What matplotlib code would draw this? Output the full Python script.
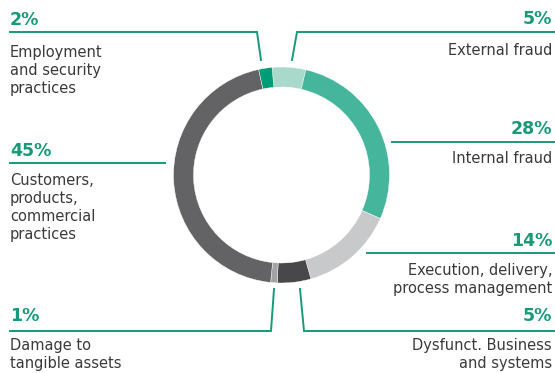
import matplotlib.pyplot as plt

# data, clockwise from the top of the ring
categories = ["External fraud", "Internal fraud", "Execution, delivery,\nprocess management",
              "Dysfunct. Business\nand systems", "Damage to\ntangible assets",
              "Customers,\nproducts,\ncommercial\npractices", "Employment\nand security\npractices"]
shares = [5, 28, 14, 5, 1, 45, 2]
colors = ["#a9d9cb", "#45b69c", "#c8c9cb", "#48484a", "#a3a3a5", "#636366", "#009b77"]

W, H = 555, 373
green = "#17997a"
txt = "#3a3a3a"

fig = plt.figure(figsize=(W / 100, H / 100), dpi=100)
ax = fig.add_axes([0, 0, 1, 1])

def fy(y):
    # pixel row from the top -> data y
    return H - y

ax.pie(shares, colors=colors, startangle=95, counterclock=False,
       radius=108, center=(281.5, fy(175)),
       wedgeprops=dict(width=20, edgecolor="white", linewidth=0.3))

# label layout: (side, pct baseline, first text baseline, leader line points)
layout = {
    "External fraud": ("r", 24, 55, [(555, 32), (297, 32), (292, 60)]),
    "Internal fraud": ("r", 134, 163, [(392, 142), (555, 142)]),
    "Execution, delivery,\nprocess management": ("r", 246, 275, [(367, 253), (555, 253)]),
    "Dysfunct. Business\nand systems": ("r", 321, 350, [(555, 331), (304, 331), (300, 289)]),
    "Damage to\ntangible assets": ("l", 321, 350, [(10, 331), (271, 331), (274, 289)]),
    "Customers,\nproducts,\ncommercial\npractices": ("l", 156, 185, [(10, 163), (165, 163)]),
    "Employment\nand security\npractices": ("l", 25, 57, [(10, 32), (257, 32), (261, 60)]),
}

for cat, s in zip(categories, shares):
    side, pb, tb, pts = layout[cat]
    x = 10 if side == "l" else 552
    ha = "left" if side == "l" else "right"
    ax.plot([p[0] for p in pts], [fy(p[1]) for p in pts], color=green, lw=1.4,
            solid_joinstyle="miter")
    ax.text(x, fy(pb), f"{s}%", ha=ha, va="baseline", fontsize=12.5,
            fontweight="bold", color=green)
    for i, line in enumerate(cat.split("\n")):
        ax.text(x, fy(tb + i * 18), line, ha=ha, va="baseline", fontsize=10.5, color=txt)

ax.set_xlim(0, W)
ax.set_ylim(0, H)
ax.set_aspect("auto")
ax.axis("off")

fig.savefig("out.png", dpi=100)
